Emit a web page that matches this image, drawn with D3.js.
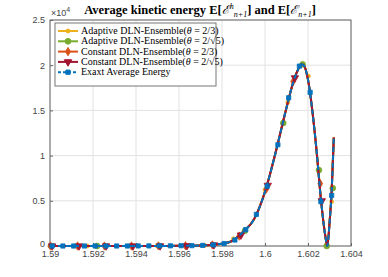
<!DOCTYPE html>
<html>
<head>
<meta charset="utf-8">
<script src="https://cdn.jsdelivr.net/npm/d3@7"></script>
<style>
  body { margin: 0; background: #fff; }
  svg { display: block; }
  .tick text { font-family: "Liberation Sans", Arial, sans-serif; font-size: 9px; fill: #444; }
</style>
</head>
<body>
<div id="chart"></div>
<script>
// values in units of 1e4
const curveX = [1.5900, 1.5950, 1.5960, 1.5970, 1.5975, 1.5980, 1.5985, 1.5990, 1.5995, 1.6000,
  1.6005, 1.6010, 1.6013, 1.6016, 1.6017, 1.6018, 1.6020, 1.6022, 1.6024, 1.6026,
  1.6028, 1.6029, 1.6030, 1.6031, 1.6032];
const curveY = [0, 0.001, 0.002, 0.006, 0.012, 0.025, 0.06, 0.16, 0.30, 0.60,
  1.04, 1.53, 1.80, 1.98, 2.01, 2.00, 1.84, 1.50, 1.05, 0.52,
  0.12, 0.0, 0.25, 0.60, 1.20];

const adapt23X = [1.5900, 1.59174, 1.5941, 1.59498, 1.5972, 1.59853, 1.6000, 1.60106, 1.60202, 1.6031];
const adapt23Y = [0, 0, 0.001, 0.002, 0.007, 0.08, 0.62, 1.59, 1.88, 0.49];

const adapt25X = [1.59005, 1.59219, 1.59507, 1.59907, 1.60085, 1.60175, 1.60251, 1.60287, 1.60315];
const adapt25Y = [0, 0, 0.002, 0.17, 1.36, 2.01, 0.84, 0, 0.64];

const const23X = [1.59002, 1.59128, 1.59253, 1.59379, 1.59504, 1.59630, 1.59755, 1.59880, 1.60006, 1.60131, 1.60257];
const const23Y = [0, 0, 0, 0, 0.001, 0.003, 0.012, 0.11, 0.63, 1.82, 0.69];

const const25X = [1.5901, 1.59135, 1.59261, 1.59386, 1.59512, 1.59637, 1.59762, 1.59888, 1.60013, 1.60139, 1.60264];
const const25Y = [0, 0, 0, 0, 0.001, 0.003, 0.012, 0.12, 0.67, 1.86, 0.50];

const exactX = [1.5901, 1.5906, 1.5911, 1.5916, 1.5921, 1.5926, 1.5931, 1.5936, 1.5941, 1.5946,
  1.5951, 1.5956, 1.5961, 1.5966, 1.5971, 1.5976, 1.5981, 1.5986, 1.5991, 1.5996,
  1.6001, 1.6006, 1.6011, 1.6016, 1.6021, 1.6026, 1.6031];
const exactY = [0, 0, 0, 0, 0, 0, 0, 0, 0.001, 0.001,
  0.002, 0.002, 0.003, 0.004, 0.007, 0.012, 0.027, 0.066, 0.18, 0.35,
  0.66, 1.12, 1.64, 1.99, 1.70, 0.49, 0.56];

const xTicks = [1.59, 1.592, 1.594, 1.596, 1.598, 1.6, 1.602, 1.604];
const yTicks = [0, 0.5, 1, 1.5, 2, 2.5];

const series = [
  { name: "Adaptive DLN-Ensemble(", th: "2/3", xs: adapt23X, ys: adapt23Y, color: "#EDB120", sym: d3.symbolCircle, size: 12, dash: null },
  { name: "Adaptive DLN-Ensemble(", th: "2/√5", xs: adapt25X, ys: adapt25Y, color: "#77AC30", sym: d3.symbolCircle, size: 26, dash: null },
  { name: "Constant DLN-Ensemble(", th: "2/3", xs: const23X, ys: const23Y, color: "#D95319", sym: d3.symbolDiamond, size: 20, dash: null },
  { name: "Constant DLN-Ensemble(", th: "2/√5", xs: const25X, ys: const25Y, color: "#A2142F", sym: d3.symbolTriangle, size: 24, dash: null, flip: true },
  { name: "Exaxt Average Energy", th: null, xs: exactX, ys: exactY, color: "#0072BD", sym: d3.symbolSquare, size: 18, dash: "5,3" }
];

const width = 388, height = 277;
const mLeft = 50, mRight = 351, mTop = 20, mBottom = 246;

const svg = d3.select("#chart").append("svg")
  .attr("width", width)
  .attr("height", height);

const x = d3.scaleLinear().domain([1.59, 1.604]).range([mLeft, mRight]);
const y = d3.scaleLinear().domain([0, 2.5]).range([mBottom, mTop]);

// grid
svg.append("g").selectAll("line").data(xTicks).join("line")
  .attr("x1", d => x(d)).attr("x2", d => x(d))
  .attr("y1", mTop).attr("y2", mBottom)
  .style("stroke", "#e2e2e2");
svg.append("g").selectAll("line").data(yTicks).join("line")
  .attr("x1", mLeft).attr("x2", mRight)
  .attr("y1", d => y(d)).attr("y2", d => y(d))
  .style("stroke", "#e2e2e2");

// axes (ticks inward like matlab)
const xAxis = svg.append("g").attr("transform", `translate(0,${mBottom})`)
  .call(d3.axisBottom(x).tickValues(xTicks).tickSizeInner(-3).tickSizeOuter(0).tickPadding(5)
    .tickFormat(d => String(+d.toFixed(3))));
const yAxis = svg.append("g").attr("transform", `translate(${mLeft},0)`)
  .call(d3.axisLeft(y).tickValues(yTicks).tickSizeInner(-3).tickSizeOuter(0).tickPadding(5)
    .tickFormat(d => String(d)));
[xAxis, yAxis].forEach(a => {
  a.select(".domain").remove();
  a.selectAll(".tick line").style("stroke", "#666");
});
// keep the 0 label clear of 1.59
yAxis.selectAll(".tick text").filter(d => d === 0).attr("dy", "0.05em");

// box
svg.append("rect")
  .attr("x", mLeft).attr("y", mTop)
  .attr("width", mRight - mLeft).attr("height", mBottom - mTop)
  .style("fill", "none").style("stroke", "#666").style("stroke-width", 1);

// exponent label
const ex = svg.append("text")
  .attr("x", mLeft + 1).attr("y", mTop - 4)
  .style("font-family", "Liberation Sans, Arial, sans-serif")
  .style("font-size", "9px").style("fill", "#444");
ex.append("tspan").text("×10");
ex.append("tspan").attr("dy", -4).style("font-size", "7px").text("4");

const plot = svg.append("g");
const line = d3.line().x(d => x(d[0])).y(d => y(d[1])).curve(d3.curveMonotoneX);
const curvePts = curveX.map((v, i) => [v, curveY[i]]);

series.forEach(s => {
  plot.append("path")
    .datum(curvePts)
    .attr("d", line)
    .style("fill", "none")
    .style("stroke", s.color)
    .style("stroke-width", 2)
    .style("stroke-dasharray", s.dash);
  const sym = d3.symbol().type(s.sym).size(s.size);
  plot.append("g").selectAll("path")
    .data(s.xs.map((v, i) => [v, s.ys[i]]))
    .join("path")
    .attr("d", sym)
    .attr("transform", d => `translate(${x(d[0])},${y(d[1])})${s.flip ? " rotate(180)" : ""}`)
    .style("fill", s.color)
    .style("stroke", s.color)
    .style("stroke-width", 0.8);
});

// title
const title = svg.append("text")
  .attr("x", 200).attr("y", 14)
  .attr("text-anchor", "middle")
  .style("font-family", "Liberation Serif, DejaVu Serif, serif")
  .style("font-size", "12.5px").style("font-weight", "bold").style("fill", "#000");
title.append("tspan").text("Average kinetic energy E[");
title.append("tspan").style("font-weight", "normal").style("font-style", "italic").text("ℰ");
title.append("tspan").attr("dy", -5).style("font-size", "8px").style("font-weight", "normal").style("font-style", "italic").text("h");
title.append("tspan").attr("dy", 8).style("font-size", "8px").style("font-weight", "normal").style("font-style", "italic").text("n+1");
title.append("tspan").attr("dy", -3).text("] and E[");
title.append("tspan").style("font-weight", "normal").style("font-style", "italic").text("ℰ");
title.append("tspan").attr("dy", 3).style("font-size", "8px").style("font-weight", "normal").style("font-style", "italic").text("n+1");
title.append("tspan").attr("dy", -3).text("]");

// legend
const lg = svg.append("g");
lg.append("rect")
  .attr("x", 55).attr("y", 23).attr("width", 161).attr("height", 63)
  .style("fill", "#fff").style("stroke", "#777").style("stroke-width", 1);
series.forEach((s, i) => {
  const ly = 31 + i * 10.3;
  lg.append("line")
    .attr("x1", 58).attr("x2", 78).attr("y1", ly).attr("y2", ly)
    .style("stroke", s.color).style("stroke-width", 2)
    .style("stroke-dasharray", s.dash ? "3,2" : null);
  lg.append("path")
    .attr("d", d3.symbol().type(s.sym).size(s.size)())
    .attr("transform", `translate(68,${ly})${s.flip ? " rotate(180)" : ""}`)
    .style("fill", s.color).style("stroke", s.color);
  const t = lg.append("text")
    .attr("x", 81).attr("y", ly + 3)
    .style("font-family", "Liberation Serif, DejaVu Serif, serif")
    .style("font-size", "10px").style("fill", "#000");
  t.append("tspan").text(s.name);
  if (s.th) {
    t.append("tspan").style("font-style", "italic").text("θ");
    t.append("tspan").text(" = " + s.th + ")");
  }
});
</script>
</body>
</html>
